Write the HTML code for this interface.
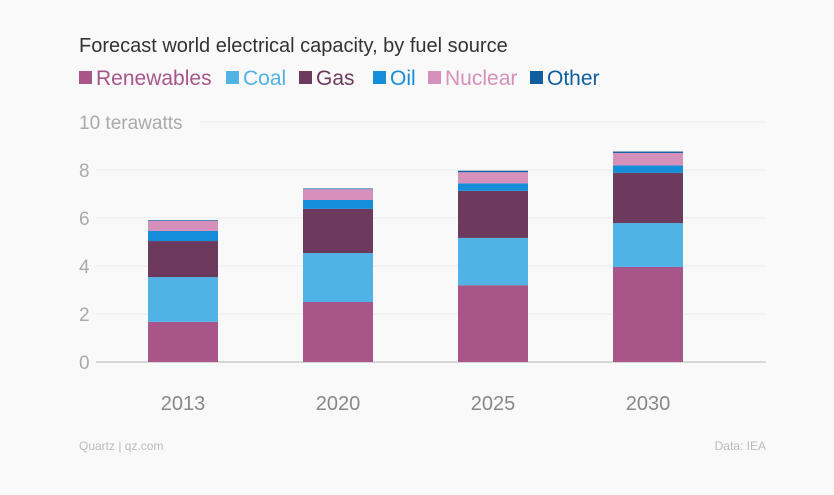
<!DOCTYPE html>
<html><head><meta charset="utf-8"><style>
html,body{margin:0;padding:0;background:#f9f9f9;}
body{width:834px;height:495px;overflow:hidden;font-family:"Liberation Sans",sans-serif;}
</style></head><body>
<svg id="chart" width="834" height="495" style="position:absolute;left:0;top:0">
<text x="79" y="52" font-size="20" fill="#333">Forecast world electrical capacity, by fuel source</text>
<g id="legend"></g>
<g id="grid"></g>
<g id="bars"></g>
<g id="xaxis"></g>
<text x="79" y="450" font-size="12" fill="#bbb">Quartz | qz.com</text>
<text x="766" y="450" font-size="12" fill="#bbb" text-anchor="end">Data: IEA</text>
</svg>
<script>
const categories = ["2013","2020","2025","2030"];
const seriesNames = ["Renewables","Coal","Gas","Oil","Nuclear","Other"];
const renewables = [1.67,2.5,3.2,3.96];
const coal = [1.87,2.04,1.97,1.83];
const gas = [1.50,1.84,1.96,2.09];
const oil = [0.42,0.37,0.31,0.31];
const nuclear = [0.42,0.45,0.47,0.52];
const other = [0.03,0.03,0.06,0.06];
const yTicks = [0,2,4,6,8,10];

const colors = ["#a8568a","#51b2e5","#6b3a5c","#168dd9","#d690bc","#0f5fa0"];
const textColors = ["#a8568a","#51b2e5","#6b3a5c","#168dd9","#d690bc","#0f5fa0"];
const series = [renewables,coal,gas,oil,nuclear,other];
const NS="http://www.w3.org/2000/svg";
const y0=362, pxPerUnit=24, x0=98, x1=766, barW=70;
function yScale(v){return y0 - v*pxPerUnit;}
function xScale(i){return 183 + i*155;}
function mk(tag,attrs,parent){const e=document.createElementNS(NS,tag);for(const k in attrs)e.setAttribute(k,attrs[k]);parent.appendChild(e);return e;}

const grid=document.getElementById('grid');
yTicks.forEach(t=>{
  const l=mk('line',{x1:x0,x2:x1,y1:yScale(t),y2:yScale(t),stroke:t===0?'#ccc':'#ececec','stroke-width':t===0?1.5:1},grid);
  
  
  const tx=mk('text',{x:79,y:yScale(t)+7,'font-size':19,fill:'#aaa'},grid);
  tx.textContent = t===10 ? '10 terawatts' : String(t);
  
  
  if(t===10){l.setAttribute('x1',200);}
  else {l.setAttribute('x1',96);}
});

const bars=document.getElementById('bars');
categories.forEach((c,i)=>{
  let acc=0;
  series.forEach((s,j)=>{
    const v=s[i];
    const r=mk('rect',{x:xScale(i)-barW/2,y:yScale(acc+v),width:barW,height:v*pxPerUnit,fill:colors[j]},bars);
    
    
    acc+=v;
  });
});

const xa=document.getElementById('xaxis');
categories.forEach((c,i)=>{
  const t=mk('text',{x:xScale(i),y:410,'font-size':20,fill:'#888','text-anchor':'middle'},xa);
  t.textContent=c;
  
  
});

const lg=document.getElementById('legend');
let lx=79;
const widths=[147,73,74,55,102,80];
seriesNames.forEach((n,j)=>{
  const r=mk('rect',{x:lx,y:71,width:13,height:13,fill:colors[j]},lg);
  
  
  const t=mk('text',{x:lx+17,y:85,'font-size':21,fill:textColors[j]},lg);
  t.textContent=n;
  
  
  lx+=widths[j];
});
</script>
</body></html>
